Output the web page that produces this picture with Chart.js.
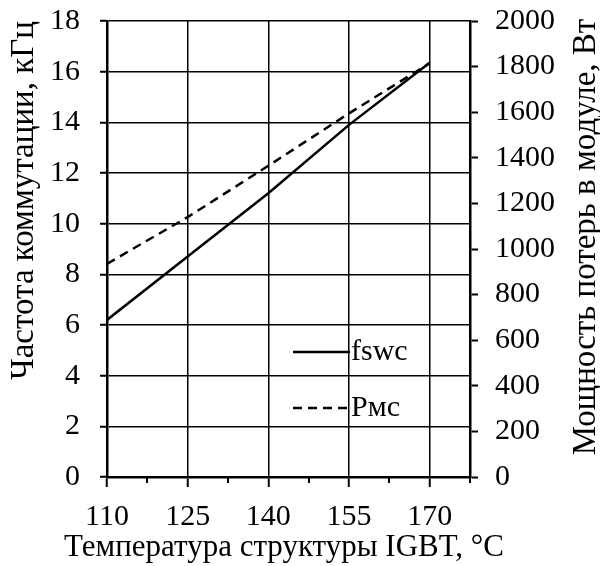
<!DOCTYPE html>
<html>
<head>
<meta charset="utf-8">
<script src="https://cdn.jsdelivr.net/npm/chart.js@4/dist/chart.umd.min.js"></script>
<style>
  html, body { margin: 0; padding: 0; background: #fff; }
  #wrap { width: 600px; height: 566px; position: relative; }
</style>
</head>
<body>
<div id="wrap"><canvas id="c" width="600" height="566"></canvas></div>
<script>
// ---- data ----
const temperatures = [110, 125, 140, 155, 170];          // °C
const fswcValues = [6.2, 8.7, 11.2, 13.9, 16.35];         // кГц (left axis)
const pmcValues = [935, 1140, 1365, 1595, 1815];          // Вт (right axis)
const seriesLabels = ['fswc', 'Pмс'];
const xTitle = 'Температура структуры IGBT, °C';
const yLeftTitle = 'Частота коммутации, кГц';
const yRightTitle = 'Мощность потерь в модуле, Вт';
const majorXTicks = [110, 125, 140, 155, 170];

const FONT = '"Liberation Serif", "Times New Roman", serif';
const TICK_SIZE = 30;

const fswcPoints = temperatures.map((t, i) => ({ x: t, y: fswcValues[i] }));
const pmcPoints = temperatures.map((t, i) => ({ x: t, y: pmcValues[i] }));

const isMajor = (v) => majorXTicks.includes(v);

const legendPlugin = {
  id: 'customLegend',
  afterDraw(chart) {
    const ctx = chart.ctx;
    const xs = chart.scales.x;
    ctx.save();
    // short minor ticks on the x axis
    ctx.strokeStyle = '#000';
    ctx.lineWidth = 2;
    xs.ticks.forEach(t => {
      if (!isMajor(t.value)) {
        const px = Math.round(xs.getPixelForValue(t.value));
        ctx.beginPath();
        ctx.moveTo(px, xs.top);
        ctx.lineTo(px, xs.top + 6);
        ctx.stroke();
      }
    });
    ctx.font = '30px ' + FONT;
    ctx.fillStyle = '#000';
    ctx.textBaseline = 'middle';
    const entries = [
      { ds: chart.data.datasets[0], y: 352 },
      { ds: chart.data.datasets[1], y: 408 }
    ];
    entries.forEach(e => {
      ctx.strokeStyle = '#000';
      ctx.lineWidth = e.ds.borderWidth;
      ctx.setLineDash(e.ds.borderDash || []);
      ctx.beginPath();
      ctx.moveTo(293, e.y);
      ctx.lineTo(350, e.y);
      ctx.stroke();
      ctx.setLineDash([]);
      ctx.fillText(e.ds.label, 351, e.y);
    });
    // x axis title (wider than the plot area, so drawn here)
    ctx.textAlign = 'center';
    ctx.font = '31px ' + FONT;
    ctx.fillText(xTitle, 284, 548);
    // right axis title, reading bottom-to-top
    ctx.translate(586, 237);
    ctx.rotate(-Math.PI / 2);
    ctx.font = '33px ' + FONT;
    ctx.fillText(yRightTitle, 0, 0);
    ctx.restore();
  }
};

function noVerticalPad(s) { s.paddingTop = 0; s.paddingBottom = 0; }

new Chart(document.getElementById('c'), {
  type: 'line',
  data: {
    datasets: [
      {
        label: seriesLabels[0],
        data: fswcPoints,
        yAxisID: 'y',
        borderColor: '#000',
        borderWidth: 2.5,
        pointRadius: 0,
        tension: 0,
        fill: false
      },
      {
        label: seriesLabels[1],
        data: pmcPoints,
        yAxisID: 'y2',
        borderColor: '#000',
        borderWidth: 2.5,
        borderDash: [9, 6],
        pointRadius: 0,
        tension: 0,
        fill: false
      }
    ]
  },
  options: {
    responsive: false,
    animation: false,
    devicePixelRatio: 1,
    layout: { padding: { top: 21, left: 0, right: 0, bottom: 0 } },
    plugins: {
      legend: { display: false },
      tooltip: { enabled: false }
    },
    scales: {
      x: {
        type: 'linear',
        position: 'bottom',
        min: 110,
        max: 177.5,
        afterFit(s) { s.height = 89; },
        ticks: {
          stepSize: 7.5,
          autoSkip: false,
          maxRotation: 0,
          padding: 12,
          color: '#000',
          font: { family: FONT, size: TICK_SIZE },
          callback: (v) => isMajor(v) ? String(v) : ''
        },
        grid: {
          color: (c) => (c.tick && isMajor(c.tick.value)) ? '#000' : 'rgba(0,0,0,0)',
          tickColor: (c) => (c.tick && isMajor(c.tick.value)) ? '#000' : 'rgba(0,0,0,0)',
          lineWidth: 1.5,
          tickWidth: 2,
          tickLength: 10
        },
        border: { color: '#000', width: 2.5 },
        title: { display: false, text: xTitle }
      },
      y: {
        position: 'left',
        min: 0,
        max: 18,
        afterFit(s) { s.width = 107; noVerticalPad(s); },
        ticks: {
          stepSize: 2,
          padding: 20,
          color: '#000',
          font: { family: FONT, size: TICK_SIZE }
        },
        grid: {
          color: '#000',
          lineWidth: 1.5,
          tickWidth: 2,
          tickLength: 7
        },
        border: { color: '#000', width: 2.5 },
        title: {
          display: true,
          text: yLeftTitle,
          align: 'end',
          color: '#000',
          font: { family: FONT, size: 33 },
          padding: { top: 5, bottom: 0 }
        }
      },
      y2: {
        position: 'right',
        min: 0,
        max: 2000,
        afterFit(s) { s.width = 130; noVerticalPad(s); },
        ticks: {
          stepSize: 200,
          padding: 17,
          color: '#000',
          font: { family: FONT, size: TICK_SIZE },
          callback: (v) => String(v)
        },
        grid: {
          drawOnChartArea: false,
          color: '#000',
          tickWidth: 2,
          tickLength: 8
        },
        border: { color: '#000', width: 2.5 },
        title: { display: false }
      }
    }
  },
  plugins: [legendPlugin]
});
</script>
</body>
</html>
